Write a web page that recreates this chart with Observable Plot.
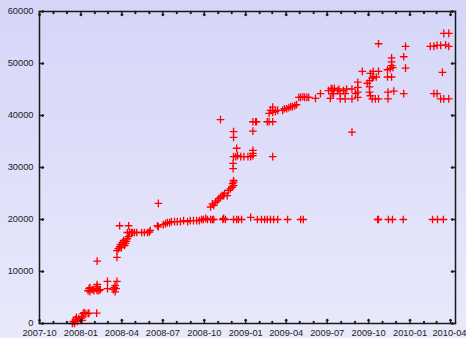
<!DOCTYPE html>
<html><head><meta charset="utf-8">
<script src="https://cdn.jsdelivr.net/npm/d3@7"></script>
<script src="https://cdn.jsdelivr.net/npm/@observablehq/plot@0.6"></script>
<style>
html,body{margin:0;padding:0;}
body{width:466px;height:338px;overflow:hidden;background:linear-gradient(180deg,#d5d5f8 0%,#e9e9fb 100%);}
#chart svg{display:block;}
</style></head><body><div id="chart"></div>
<script>
const dates = [
"2007-12-13","2007-12-15","2007-12-18","2007-12-20","2007-12-22","2007-12-24","2007-12-27","2008-01-02","2008-01-04","2008-01-04",
"2008-01-06","2008-01-08","2008-01-12","2008-01-17","2008-01-19","2008-02-05","2008-01-17","2008-01-19","2008-01-21","2008-01-21",
"2008-01-26","2008-01-30","2008-02-04","2008-02-06","2008-02-06","2008-02-10","2008-02-13","2008-02-06","2008-02-06","2008-02-29",
"2008-02-29","2008-03-13","2008-03-15","2008-03-17","2008-03-19","2008-03-21","2008-03-17","2008-03-21","2008-03-21","2008-03-24",
"2008-03-27","2008-03-29","2008-03-31","2008-04-02","2008-04-05","2008-04-07","2008-04-09","2008-04-11","2008-04-13","2008-04-16",
"2008-03-27","2008-04-16","2008-04-13","2008-04-18","2008-04-22","2008-04-25","2008-04-29","2008-05-04","2008-05-15","2008-05-21",
"2008-05-28","2008-06-01","2008-06-03","2008-06-19","2008-06-21","2008-06-21",
"2008-07-02","2008-07-07","2008-07-11","2008-07-16","2008-07-20","2008-07-27","2008-08-02","2008-08-09","2008-08-16","2008-08-25",
"2008-08-31","2008-09-07","2008-09-14","2008-09-20","2008-09-25","2008-09-29","2008-10-04","2008-10-08","2008-10-15","2008-10-19",
"2008-10-22","2008-11-11","2008-11-13","2008-11-17","2008-12-05","2008-12-12","2008-12-16","2008-12-23","2009-01-12","2009-01-27",
"2009-02-05","2009-02-12","2009-02-18","2009-02-25","2009-03-04","2009-03-13","2009-04-04","2009-05-03","2009-05-09","2009-10-21",
"2009-10-23","2009-11-14","2009-11-23","2009-12-17","2010-02-20","2010-03-03","2010-03-16",
"2008-10-15","2008-10-19","2008-10-22","2008-10-26","2008-10-30","2008-11-02","2008-11-06","2008-11-10","2008-11-13","2008-11-15",
"2008-11-21","2008-11-24","2008-11-28","2008-12-02","2008-12-03","2008-12-05","2008-12-05","2008-12-05","2008-12-04","2008-12-04",
"2008-12-05","2008-12-10","2008-12-14","2008-12-21","2008-12-28","2009-01-06","2009-01-12","2009-01-17","2008-12-12","2008-12-05",
"2008-12-05","2009-01-17","2009-01-17","2009-01-17","2009-01-17","2009-01-23","2009-01-25","2008-11-06","2009-03-02","2009-02-18",
"2009-02-22","2009-03-02","2009-03-02","2009-03-02","2009-02-22","2009-02-25","2009-03-08","2009-03-13","2009-03-24","2009-03-28",
"2009-04-02","2009-04-07","2009-04-11","2009-04-15","2009-04-20","2009-04-24","2009-04-29","2009-05-03","2009-05-08","2009-05-12",
"2009-05-17","2009-05-21","2009-06-05","2009-06-16","2009-07-04","2009-07-10","2009-07-17","2009-07-24","2009-07-08","2009-07-15",
"2009-07-12","2009-07-12","2009-07-27","2009-07-30","2009-07-30","2009-08-06","2009-08-10","2009-08-10","2009-08-13","2009-08-25",
"2009-08-25","2009-09-02","2009-09-07","2009-09-07","2009-09-07","2009-09-07","2009-08-25","2009-09-17","2009-10-23","2009-09-28",
"2009-10-03","2009-10-09","2009-10-12","2009-10-18","2009-10-05","2009-10-11","2009-10-23","2009-10-03","2009-10-03","2009-10-05",
"2009-10-09","2009-10-16","2009-10-23","2009-11-12","2009-11-12","2009-11-21","2009-11-21","2009-11-21","2009-11-21","2009-11-24",
"2009-11-18","2009-11-13","2009-11-26","2009-11-13","2009-12-22","2009-12-18","2009-12-22","2009-12-18","2010-02-15","2010-02-23",
"2010-03-02","2010-03-10","2010-03-21","2010-03-28","2010-03-17","2010-03-28","2010-03-14","2010-02-23","2010-03-02","2010-03-10",
"2010-03-17","2010-03-28"
];
const values = [
0,400,0,800,1200,400,1000,1000,1300,600,
1900,2100,1900,1900,2000,2000,6300,6700,6900,6100,
6500,6300,6700,7100,6300,6300,6500,7500,12000,8100,
6700,6500,6900,7300,6700,8100,6100,12700,14000,14400,
14800,15200,14600,15600,16000,15000,15400,15800,16300,16700,
18800,18800,17500,17500,17500,17500,17500,17500,17500,17500,
17500,17600,17900,18800,23100,18600,
19000,19200,19400,19400,19600,19600,19600,19600,19800,19600,
19800,19800,19800,19800,20000,20000,20200,20000,20000,20000,
20000,20000,20200,20000,20000,20000,20000,20000,20400,20000,
20000,20000,20000,20000,20000,20000,20000,20000,20000,20000,
20000,20000,20000,20000,20000,20000,20000,
22400,23000,22700,23300,23600,24000,24300,24600,24600,25000,
24600,25600,25900,26200,26900,26500,27200,27500,29800,30800,
32100,32100,32300,32100,32100,32100,32100,32300,33700,36900,
35800,37000,32700,33300,38800,38800,38800,39200,32100,38800,
38800,38800,40600,41600,40400,41000,40800,41000,41000,41300,
41300,41500,41700,41700,41900,42100,43500,43500,43600,43500,
43500,43500,43300,44200,44800,45200,45200,44800,43300,44200,
45100,44200,45100,44200,43200,44800,44200,43200,45100,45100,
43200,44200,46400,45400,44500,43500,36800,48500,53800,46200,
46700,47200,47400,47400,48100,48500,48500,45500,44500,43800,
43200,43200,43200,48800,47400,47400,51100,50300,49600,49200,
49000,44500,44700,43200,53300,51300,49100,44200,53300,53300,
53500,53500,53600,53300,55800,55800,48300,44200,44200,43200,
43200,43200
];
const xTickLabels = ["2007-10","2008-01","2008-04","2008-07","2008-10","2009-01","2009-04","2009-07","2009-10","2010-01","2010-04"];
const yTicks = [0,10000,20000,30000,40000,50000,60000];
const xStart = "2007-10-01", xEnd = "2010-04-12";

const data = dates.map((d, i) => ({date: new Date(d), value: values[i]}));
const majors = xTickLabels.map(s => new Date(s + "-01"));
const domainX = [new Date(xStart), new Date(xEnd)];
const minors = d3.utcMonth.range(domainX[0], domainX[1]).filter(d => !majors.some(m => +m === +d));
const yMin = yTicks[0], yMax = yTicks[yTicks.length - 1];
const ink = "#1a1a1a";
const fmt = d3.utcFormat("%Y-%m");

const chart = Plot.plot({
  width: 466, height: 338,
  marginLeft: 39, marginRight: 11, marginTop: 11, marginBottom: 15,
  style: {background: "transparent", fontFamily: "'Liberation Sans', Arial, sans-serif", fontSize: "9.3px", color: "#222"},
  x: {type: "utc", domain: domainX},
  y: {domain: [yMin, yMax]},
  marks: [
    Plot.dot(data, {x: "date", y: "value", symbol: "plus", r: 2.6, stroke: "#ff0000", strokeWidth: 1.3}),
    Plot.frame({stroke: ink, strokeWidth: 1.5}),
    Plot.axisX(majors.slice(0, -1), {tickSize: 0, tickPadding: 6, tickFormat: fmt, label: null}),
    Plot.axisX(majors.slice(-1), {tickSize: 0, tickPadding: 6, tickFormat: fmt, label: null, textAnchor: "end", dx: 16}),
    Plot.axisY(yTicks, {tickSize: 0, tickPadding: 6, tickFormat: d3.format("d"), label: null}),
    Plot.vector(majors, {x: d => d, y: () => yMin, length: 4, rotate: 0, anchor: "start", stroke: ink}),
    Plot.vector(majors, {x: d => d, y: () => yMax, length: 4, rotate: 180, anchor: "start", stroke: ink}),
    Plot.vector(minors, {x: d => d, y: () => yMin, length: 2, rotate: 0, anchor: "start", stroke: ink}),
    Plot.vector(minors, {x: d => d, y: () => yMax, length: 2, rotate: 180, anchor: "start", stroke: ink}),
    Plot.vector(yTicks, {x: () => domainX[0], y: d => d, length: 4, rotate: 90, anchor: "start", stroke: ink}),
    Plot.vector(yTicks, {x: () => domainX[1], y: d => d, length: 4, rotate: -90, anchor: "start", stroke: ink})
  ]
});
document.getElementById("chart").append(chart);
</script>
</body></html>
